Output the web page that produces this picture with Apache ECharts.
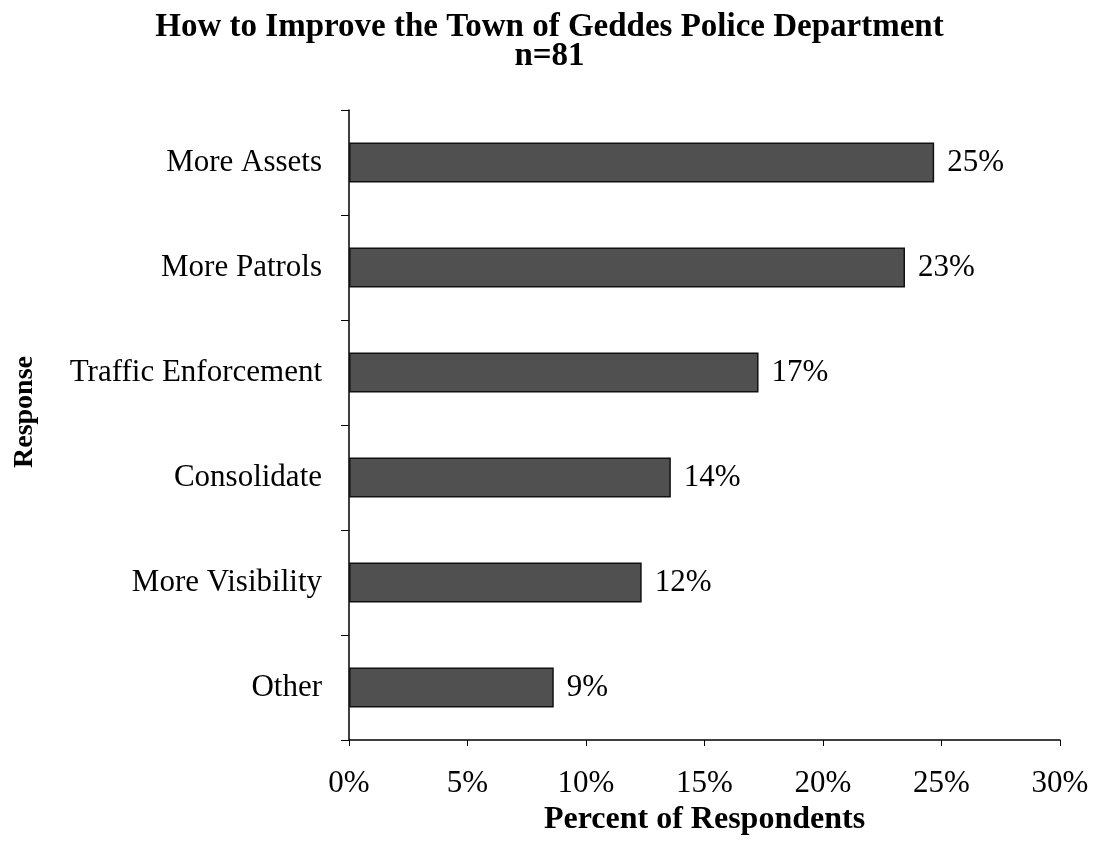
<!DOCTYPE html>
<html>
<head>
<meta charset="utf-8">
<script src="https://cdn.jsdelivr.net/npm/echarts@6/dist/echarts.min.js"></script>
<style>html,body{margin:0;padding:0;background:#fff}#c{width:1099px;height:858px}</style>
</head>
<body>
<div id="c"></div>
<script>
const categories = ['Other', 'More Visibility', 'Consolidate', 'Traffic Enforcement', 'More Patrols', 'More Assets'];
const percents = [8.64, 12.35, 13.58, 17.28, 23.46, 24.69];
const xTicks = [0, 5, 10, 15, 20, 25, 30];

const chart = echarts.init(document.getElementById('c'));
const serif = 'Liberation Serif, Times New Roman, serif';
chart.setOption({
  animation: false,
  backgroundColor: '#fff',
  title: {
    text: 'How to Improve the Town of Geddes Police Department\nn=81',
    left: 'center', top: 8,
    textStyle: {fontFamily: serif, fontWeight: 'bold', fontSize: 33, color: '#000', lineHeight: 29}
  },
  graphic: [{
    type: 'text', x: 25, y: 412, rotation: Math.PI / 2,
    style: {text: 'Response', fontFamily: serif, fontWeight: 'bold', fontSize: 28, fill: '#000',
      align: 'center', verticalAlign: 'middle'}
  }],
  grid: {left: 349, right: 39, top: 110, bottom: 118},
  xAxis: {
    type: 'value', min: 0, max: 30, interval: 5,
    name: 'Percent of Respondents', nameLocation: 'middle', nameGap: 60,
    nameTextStyle: {fontFamily: serif, fontWeight: 'bold', fontSize: 32, color: '#000'},
    axisLine: {show: true, lineStyle: {color: '#000', width: 1.5}},
    axisTick: {show: true, length: 6, lineStyle: {color: '#000'}},
    splitLine: {show: false},
    axisLabel: {fontFamily: serif, fontSize: 31, color: '#000', margin: 28,
      formatter: v => v + '%'}
  },
  yAxis: {
    type: 'category', data: categories,
    axisLine: {show: true, lineStyle: {color: '#000', width: 1.5}},
    axisTick: {show: true, length: 8, lineStyle: {color: '#000'}},
    axisLabel: {fontFamily: serif, fontSize: 31, color: '#000', margin: 27}
  },
  series: [{
    type: 'bar', data: percents, barCategoryGap: '62%',
    itemStyle: {color: '#505050', borderColor: '#111', borderWidth: 1.5},
    label: {show: true, position: 'right', distance: 13, fontFamily: serif, fontSize: 31, color: '#000',
      formatter: p => Math.round(p.value) + '%'}
  }]
});
</script>
</body>
</html>
